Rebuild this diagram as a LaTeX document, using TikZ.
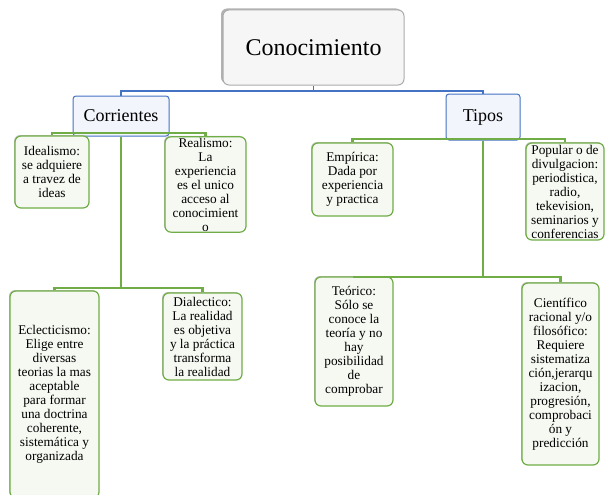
\documentclass[tikz,border=0pt]{standalone}
\usepackage{fontspec}
\setmainfont{Liberation Serif}
\usepackage{tikz}
\usetikzlibrary{shadows, positioning}
\definecolor{hojaverde}{HTML}{70AD47}
\definecolor{azul}{HTML}{4472C4}
\tikzset{%
  % Specifications for style of nodes:
            root/.style = {rectangle, rounded corners=6pt, draw=gray!65, line width=1pt,
                            fill=gray!7, minimum width=181pt, minimum height=75pt,
                            font=\rmfamily\fontsize{24}{28}\selectfont,
                            drop shadow={shadow xshift=-2pt, shadow yshift=1.5pt, fill=gray!60, opacity=1}},
            topic/.style = {rectangle, rounded corners=3pt, draw=azul, line width=1pt,
                            fill=azul!7, font=\rmfamily\fontsize{18}{21}\selectfont},
            leaf/.style = {rectangle, rounded corners=6pt, draw=hojaverde, line width=1.2pt,
                            fill=hojaverde!7, inner sep=1pt, align=center,
                            font=\rmfamily\fontsize{13.3}{14}\selectfont,
                            drop shadow={shadow xshift=-1pt, shadow yshift=1pt, fill=gray!45, opacity=1}},
            bline/.style = {draw=azul, line width=1.8pt},
            gline/.style = {draw=hojaverde, line width=2.4pt}
}
\begin{document}
\begin{tikzpicture}[x=1pt, y=-1pt]
                \clip (0,0) rectangle (605,495);

                \node[root] (con) at (313.5,47.5) {Conocimiento};
                \node[topic, minimum width=96pt, minimum height=40pt] (corr) at (121,116) {Corrientes};
                \node[topic, minimum width=74pt, minimum height=46pt] (tipos) at (483,117) {Tipos};

                % corrientes
                \node[leaf, minimum width=74pt, minimum height=72pt] (ideal) at (52,172)
                    {Idealismo:\\se adquiere\\a travez de\\ideas};
                \node[leaf, minimum width=81pt, minimum height=95pt] (real) at (205.5,184.5)
                    {Realismo:\\La\\experiencia\\es el unico\\acceso al\\conocimient\\o};
                \node[leaf, minimum width=89pt, minimum height=207pt] (ecl) at (54.5,394.5)
                    {Eclecticismo:\\Elige entre\\diversas\\teorias la mas\\aceptable\\para formar\\una doctrina\\coherente,\\sistemática y\\organizada};
                \node[leaf, minimum width=79pt, minimum height=87pt] (dial) at (202.5,336.5)
                    {Dialectico:\\La realidad\\es objetiva\\y la práctica\\transforma\\la realidad};

                % tipos
                \node[leaf, minimum width=81pt, minimum height=73pt] (emp) at (352.5,179.5)
                    {Empírica:\\Dada por\\experiencia\\y practica};
                \node[leaf, minimum width=78pt, minimum height=97pt] (pop) at (565,191.5)
                    {Popular o de\\divulgacion:\\periodistica,\\radio,\\tekevision,\\seminarios y\\conferencias};
                \node[leaf, minimum width=78pt, minimum height=129pt] (teo) at (354,341.5)
                    {Teórico:\\Sólo se\\conoce la\\teoría y no\\hay\\posibilidad\\de\\comprobar};
                \node[leaf, minimum width=77pt, minimum height=182pt] (cien) at (560.5,374)
                    {Científico\\racional y/o\\filosófico:\\Requiere\\sistematiza\\ción,jerarqu\\izacion,\\progresión,\\comprobaci\\ón y\\predicción};

                \coordinate (b1) at (313.5,91);
                \coordinate (c1) at (121,133);
                \coordinate (c2) at (121,288);
                \coordinate (t1) at (483,139);
                \coordinate (t2) at (483,277);

                \draw[bline] (con) -- (b1);
                \draw[bline] (corr.north) |- (b1) -| (tipos.north);

                \draw[gline] (corr) -- (c2);
                \draw[gline] (ideal.north) |- (c1) -| (real.north);
                \draw[gline] (ecl.north) |- (c2) -| (dial.north);

                \draw[gline] (tipos) -- (t2);
                \draw[gline] (emp.north) |- (t1) -| (pop.north);
                \draw[gline] (teo.north) |- (t2) -| (cien.north);

            \end{tikzpicture}
\end{document}
